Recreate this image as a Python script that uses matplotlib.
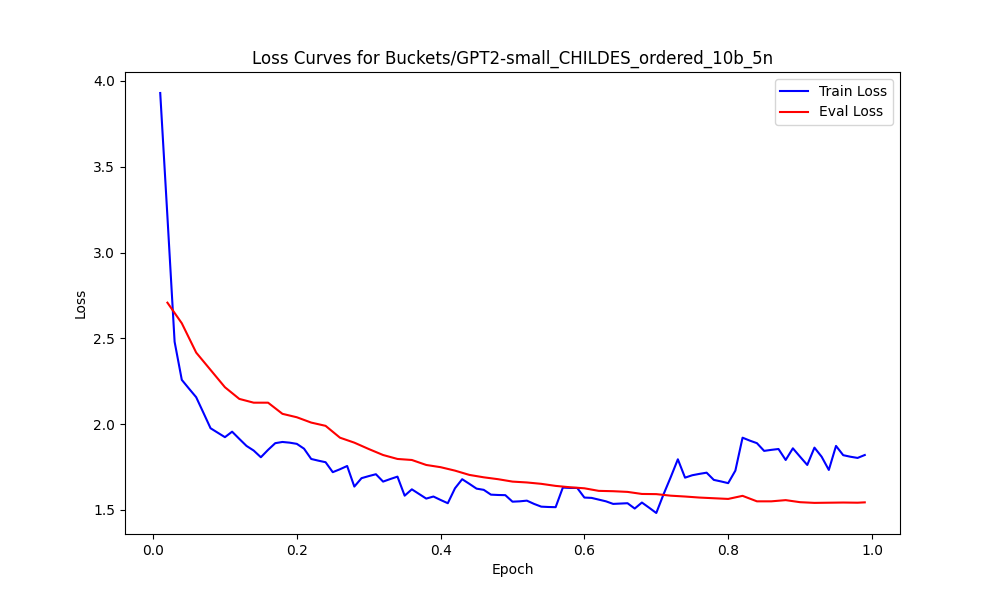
import numpy as np
import matplotlib
matplotlib.use('Agg')
import matplotlib.pyplot as plt

# train loss logged every 0.01 epoch, eval loss every 0.02 (+ final)
train_epoch = [round(0.01 * i, 2) for i in range(1, 100)]
train_loss = [3.93, 3.21, 2.48, 2.258, 2.207, 2.157, 2.067, 1.976, 1.95, 1.924,
              1.956, 1.914, 1.873, 1.846, 1.807, 1.85, 1.889, 1.896, 1.892, 1.885,
              1.857, 1.797, 1.787, 1.778, 1.72, 1.737, 1.756, 1.636, 1.685, 1.697,
              1.708, 1.665, 1.68, 1.694, 1.583, 1.62, 1.593, 1.566, 1.578, 1.558,
              1.539, 1.626, 1.679, 1.652, 1.624, 1.617, 1.589, 1.587, 1.586, 1.548,
              1.55, 1.554, 1.535, 1.519, 1.517, 1.516, 1.63, 1.628, 1.628, 1.572,
              1.57, 1.56, 1.55, 1.535, 1.537, 1.539, 1.508, 1.543, 1.513, 1.482,
              1.59, 1.69, 1.795, 1.688, 1.702, 1.71, 1.717, 1.675, 1.666, 1.656,
              1.729, 1.921, 1.904, 1.889, 1.844, 1.85, 1.855, 1.791, 1.859, 1.81,
              1.762, 1.863, 1.81, 1.733, 1.873, 1.819, 1.81, 1.803, 1.82]

eval_epoch = [round(0.02 * i, 2) for i in range(1, 50)] + [0.99]
eval_loss = [2.708, 2.588, 2.417, 2.316, 2.215, 2.147, 2.125, 2.125, 2.06, 2.04,
             2.009, 1.99, 1.921, 1.892, 1.855, 1.82, 1.797, 1.791, 1.762, 1.749,
             1.729, 1.704, 1.69, 1.679, 1.665, 1.66, 1.652, 1.64, 1.632, 1.626,
             1.611, 1.609, 1.605, 1.593, 1.592, 1.583, 1.578, 1.572, 1.568, 1.564,
             1.582, 1.55, 1.55, 1.557, 1.545, 1.541, 1.542, 1.543, 1.542, 1.544]

plt.figure(figsize=(10, 6), dpi=100)
plt.plot(train_epoch, train_loss, color='blue', label='Train Loss')
plt.plot(eval_epoch, eval_loss, color='red', label='Eval Loss')
plt.xlabel('Epoch')
plt.ylabel('Loss')
plt.title('Loss Curves for Buckets/GPT2-small_CHILDES_ordered_10b_5n')
plt.legend()
plt.savefig('out.png', dpi=100)
